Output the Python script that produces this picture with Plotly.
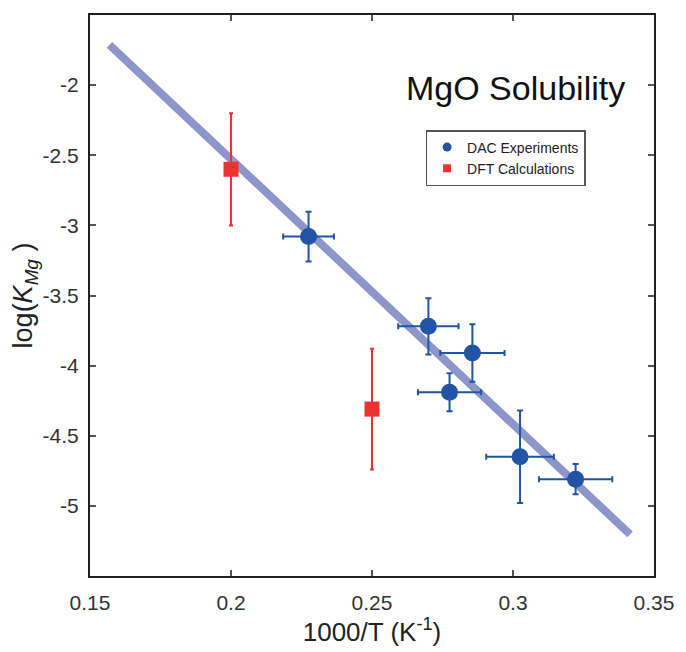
import plotly.graph_objects as go

# DAC experiments
dac_x = [0.2275, 0.2700, 0.2856, 0.2775, 0.3025, 0.3222]
dac_y = [-3.08, -3.72, -3.91, -4.19, -4.65, -4.81]
dac_xerr = [0.009, 0.0107, 0.0114, 0.0112, 0.012, 0.013]
dac_yerr = [0.177, 0.20, 0.205, 0.135, 0.33, 0.108]

# DFT calculations
dft_x = [0.20, 0.25]
dft_y = [-2.60, -4.31]
dft_yerr = [0.40, 0.43]

# Fit line endpoints
fit_x = [0.1569, 0.3415]
fit_y = [-1.713, -5.203]

x_ticks = [0.15, 0.2, 0.25, 0.3, 0.35]
x_labels = ["0.15", "0.2", "0.25", "0.3", "0.35"]
y_ticks = [-5, -4.5, -4, -3.5, -3, -2.5, -2]
y_labels = ["-5", "-4.5", "-4", "-3.5", "-3", "-2.5", "-2"]

BLUE = "#2054A4"
RED = "#EE3131"
LINE = "#8C96CB"
FONT = "Liberation Sans, Arial, Helvetica, sans-serif"

fig = go.Figure()
fig.add_trace(go.Scatter(x=fit_x, y=fit_y, mode="lines",
                         line=dict(color=LINE, width=8), showlegend=False,
                         hoverinfo="skip"))
fig.add_trace(go.Scatter(x=dac_x, y=dac_y, mode="markers",
                         marker=dict(color=BLUE, size=17, symbol="circle"),
                         error_x=dict(type="data", array=dac_xerr, color=BLUE,
                                      thickness=2, width=3),
                         error_y=dict(type="data", array=dac_yerr, color=BLUE,
                                      thickness=2, width=3),
                         showlegend=False, name="DAC Experiments"))
fig.add_trace(go.Scatter(x=dft_x, y=dft_y, mode="markers",
                         marker=dict(color=RED, size=15, symbol="square"),
                         error_y=dict(type="data", array=dft_yerr, color=RED,
                                      thickness=2, width=2),
                         showlegend=False, name="DFT Calculations"))
# legend entries
fig.add_trace(go.Scatter(x=[None], y=[None], mode="markers",
                         marker=dict(color=BLUE, size=9, symbol="circle"),
                         name="DAC Experiments"))
fig.add_trace(go.Scatter(x=[None], y=[None], mode="markers",
                         marker=dict(color=RED, size=8, symbol="square"),
                         name="DFT Calculations"))

fig.add_annotation(x=0.35, y=-2.02, xref="x", yref="y",
                   text="MgO Solubility", showarrow=False,
                   xanchor="right", yanchor="middle", xshift=-27,
                   font=dict(family=FONT, size=34, color="#111111"))

axis_common = dict(showline=True, linecolor="#231F20", linewidth=2,
                   mirror="ticks", ticks="inside", ticklen=6, tickwidth=1.5,
                   tickcolor="#555555", showgrid=False, zeroline=False,
                   tickfont=dict(family=FONT, size=21, color="#333333"))

fig.update_xaxes(range=[0.15, 0.35], tickvals=x_ticks, ticktext=x_labels,
                 title=dict(text="1000/T (K<sup>-1</sup>)",
                            font=dict(family=FONT, size=26, color="#222222"),
                            standoff=8),
                 ticklabelstandoff=7, **axis_common)
fig.update_yaxes(range=[-5.5, -1.5], tickvals=y_ticks, ticktext=y_labels,
                 title=dict(text="log(<i>K</i><sub><i>Mg</i></sub> )",
                            font=dict(family=FONT, size=27, color="#222222"),
                            standoff=2),
                 ticklabelstandoff=5, **axis_common)

fig.update_layout(width=686, height=652,
                  margin=dict(l=90, r=27, t=15, b=72),
                  paper_bgcolor="white", plot_bgcolor="white",
                  font=dict(family=FONT),
                  legend=dict(x=0.595, y=0.795, xanchor="left", yanchor="top",
                              bgcolor="white", bordercolor="#555555",
                              borderwidth=1.5,
                              font=dict(family=FONT, size=14, color="#222222"),
                              itemsizing="trace", itemwidth=30,
                              tracegroupgap=0))

fig.write_html("out.html")
